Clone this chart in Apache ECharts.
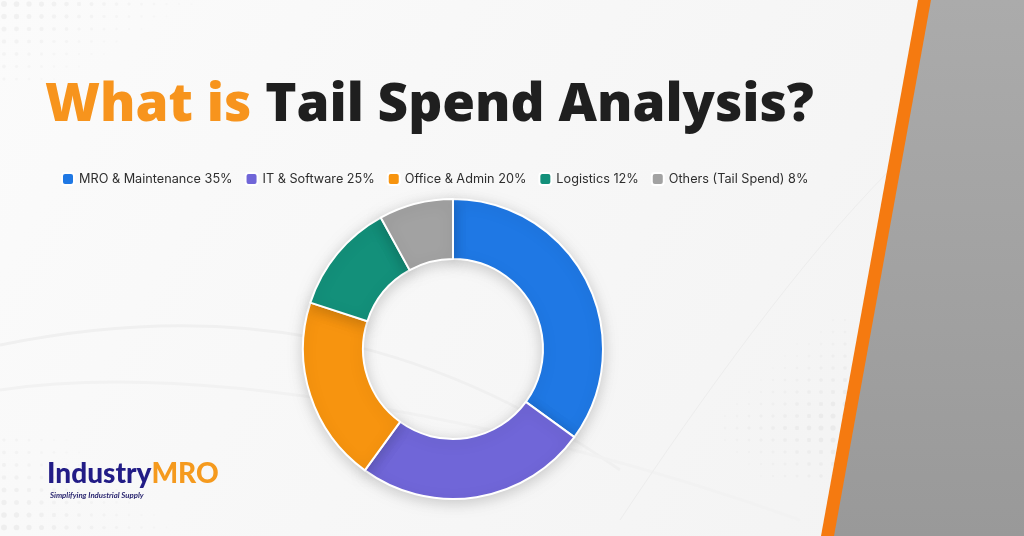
<!DOCTYPE html>
<html>
<head>
<meta charset="utf-8">
<script src="https://cdn.jsdelivr.net/npm/echarts@6/dist/echarts.min.js"></script>
<style>
html,body{margin:0;padding:0;width:1024px;height:536px;overflow:hidden;background:#f7f7f7;}
#chart{width:1024px;height:536px;}
</style>
</head>
<body>
<div id="chart"></div>
<script>
const categories = ['MRO & Maintenance', 'IT & Software', 'Office & Admin', 'Logistics', 'Others (Tail Spend)'];
const values = [35, 25, 20, 12, 8];
const colors = ['#1F78E4', '#7066D8', '#F7940F', '#13907A', '#A2A2A2'];
const titleLead = 'What is ';
const titleRest = 'Tail Spend Analysis?';
const brandA = 'Industry';
const brandB = 'MRO';
const tagline = 'Simplifying Industrial Supply';

const chart = echarts.init(document.getElementById('chart'));
const data = categories.map((c, i) => ({ name: c, value: values[i], itemStyle: { color: colors[i] } }));

// decorative dot grids
const dots = [];
function dotGrid(x0, y0, cols, rows, step, fade) {
  for (let r = 0; r < rows; r++) for (let c = 0; c < cols; c++) {
    const t = fade(c, r);
    if (t <= 0.05) continue;
    dots.push({ type: 'circle', z: -9, silent: true,
      shape: { cx: x0 + c * step, cy: y0 + r * step, r: 1 + 2 * t },
      style: { fill: 'rgba(0,0,0,' + (0.035 * t + 0.01).toFixed(3) + ')' } });
  }
}
dotGrid(4, 4, 16, 7, 12.5, (c, r) => Math.max(0, 1 - c / 16 - r / 9));
dotGrid(4, 440, 14, 8, 12.5, (c, r) => Math.max(0, 1 - c / 14 + (r - 7) / 12));
dotGrid(725, 320, 11, 14, 12, (c, r) => Math.max(0, Math.min(1, (c / 11) * 0.8 + 0.2 - Math.abs(r - 9) / 12)));

chart.setOption({
  backgroundColor: '#f8f8f8',
  animation: false,
  graphic: [
    { type: 'polygon', z: -10, silent: true,
      shape: { points: [[0,0],[925,0],[828,536],[0,536]] },
      style: { fill: new echarts.graphic.LinearGradient(0,0,1,1,[{offset:0,color:'#fbfbfb'},{offset:1,color:'#f3f3f3'}]) } },
    { type: 'bezierCurve', z: -9, silent: true,
      shape: { x1: 0, y1: 345, cpx1: 220, cpy1: 300, cpx2: 420, cpy2: 330, x2: 620, y2: 470 },
      style: { stroke: '#f0f0f0', lineWidth: 3, fill: null } },
    { type: 'bezierCurve', z: -9, silent: true,
      shape: { x1: 0, y1: 390, cpx1: 200, cpy1: 360, cpx2: 520, cpy2: 420, x2: 800, y2: 520 },
      style: { stroke: '#f2f2f2', lineWidth: 3, fill: null } },
    { type: 'bezierCurve', z: -9, silent: true,
      shape: { x1: 620, y1: 520, cpx1: 700, cpy1: 400, cpx2: 800, cpy2: 260, x2: 890, y2: 170 },
      style: { stroke: '#ededed', lineWidth: 1, fill: null } },
    ...dots,
    { type: 'polygon', z: -8, silent: true,
      shape: { points: [[930,0],[1024,0],[1024,536],[833,536]] },
      style: { fill: new echarts.graphic.LinearGradient(0,0,0,1,[{offset:0,color:'#ababab'},{offset:1,color:'#999999'}]) } },
    { type: 'polygon', z: -7, silent: true,
      shape: { points: [[918,0],[931,0],[834,536],[821,536]] },
      style: { fill: '#F57A10' } },
    { type: 'text', left: 47, top: 460, z: 10,
      style: { text: '{a|' + brandA + '}{b|' + brandB + '}',
        rich: {
          a: { fontFamily: 'Lato', fontWeight: 900, fontSize: 28, fill: '#221C86' },
          b: { fontFamily: 'Lato', fontWeight: 900, fontSize: 28, fill: '#F59A1E' }
        } } },
    { type: 'text', left: 50, top: 491, z: 10,
      style: { text: tagline, fontFamily: 'Lato', fontStyle: 'italic', fontWeight: 700, fontSize: 7.8, fill: '#2a2670' } }
  ],
  title: {
    text: '{a|' + titleLead + '}{b|' + titleRest + '}',
    left: 40, top: 74,
    textStyle: {
      rich: {
        a: { fontFamily: 'Open Sans', fontWeight: 800, fontSize: 53, color: '#F7941D' },
        b: { fontFamily: 'Open Sans', fontWeight: 800, fontSize: 53, color: '#1f1f1f' }
      }
    }
  },
  legend: {
    left: 56, top: 167,
    icon: 'roundRect',
    itemWidth: 12, itemHeight: 12, itemGap: 12,
    textStyle: { fontFamily: 'Inter', fontSize: 12.7, color: '#2e2e2e' },
    formatter: name => name + ' ' + values[categories.indexOf(name)] + '%',
    data: categories
  },
  series: [{
    type: 'pie',
    center: [453, 349],
    radius: [90, 150],
    startAngle: 90,
    clockwise: true,
    label: { show: false },
    labelLine: { show: false },
    itemStyle: { borderColor: '#ffffff', borderWidth: 2, shadowBlur: 14, shadowColor: 'rgba(0,0,0,0.18)', shadowOffsetY: 3 },
    emphasis: { disabled: true },
    data: data
  }]
});
</script>
</body>
</html>
